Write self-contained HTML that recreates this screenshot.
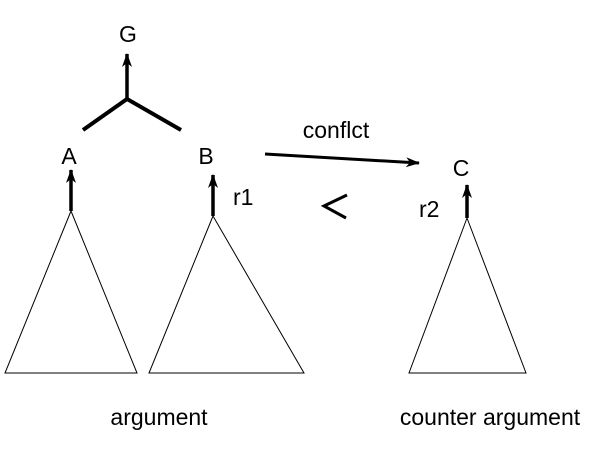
<!DOCTYPE html>
<html><head><meta charset="utf-8"><style>
html,body{margin:0;padding:0;background:#fff;width:612px;height:453px;overflow:hidden}
text{font-family:"Liberation Sans",sans-serif;font-size:23px;fill:#000}
</style></head><body>
<svg width="612" height="453" viewBox="0 0 612 453" xmlns="http://www.w3.org/2000/svg">
<defs><marker id="ah" markerWidth="14" markerHeight="10" refX="13" refY="5" orient="auto" markerUnits="userSpaceOnUse"><path d="M0,0 L14,5 L0,10 L4,5 Z" fill="#000"/></marker></defs>
<g stroke="#000" fill="none">
<polygon points="71,211 5,373 137,373" stroke-width="1"/>
<polygon points="213,216 149,373 304,373" stroke-width="1"/>
<polygon points="467,218 409,373 526,373" stroke-width="1"/>
<line x1="127" y1="99" x2="83" y2="130" stroke-width="4"/>
<line x1="127" y1="99" x2="181" y2="130" stroke-width="4"/>
<line x1="127" y1="99" x2="127" y2="54" stroke-width="3.5" marker-end="url(#ah)"/>
<line x1="71" y1="211" x2="71" y2="170" stroke-width="3.5" marker-end="url(#ah)"/>
<line x1="213" y1="216" x2="213" y2="175" stroke-width="3.5" marker-end="url(#ah)"/>
<line x1="467" y1="218" x2="467" y2="185" stroke-width="3.5" marker-end="url(#ah)"/>
<line x1="265" y1="154" x2="419" y2="163" stroke-width="3" marker-end="url(#ah)"/>
<polyline points="347,195 324,206 346,218" stroke-width="3"/>
</g>
<text x="128" y="42" text-anchor="middle">G</text>
<text x="69" y="164" text-anchor="middle">A</text>
<text x="206" y="164" text-anchor="middle">B</text>
<text x="461" y="176" text-anchor="middle">C</text>
<text x="336" y="138" text-anchor="middle">conflct</text>
<text x="233" y="205">r1</text>
<text x="419" y="217">r2</text>
<text x="159" y="425" text-anchor="middle">argument</text>
<text x="490" y="425" text-anchor="middle">counter argument</text>
</svg>
</body></html>
